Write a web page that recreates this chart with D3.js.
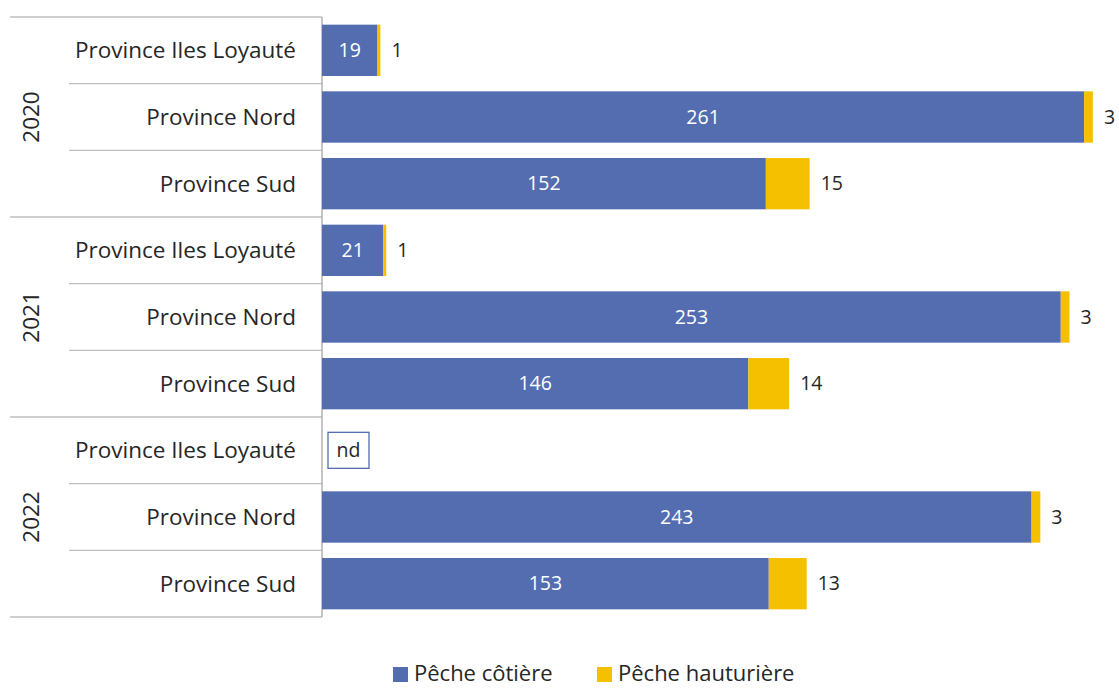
<!DOCTYPE html>
<html>
<head>
<meta charset="utf-8">
<script src="https://cdn.jsdelivr.net/npm/d3@7"></script>
<style>
  body { margin: 0; background: #fff; }
  text { font-family: "Open Sans", "Noto Sans", sans-serif; fill: #262626; }
</style>
</head>
<body>
<script>
var years = ["2020", "2021", "2022"];
var provinces = ["Province Iles Loyauté", "Province Nord", "Province Sud"];
var seriesNames = ["Pêche côtière", "Pêche hauturière"];
// values per year, in province order (null = nd)
var cotiere = [19, 261, 152, 21, 253, 146, null, 243, 153];
var hauturiere = [1, 3, 15, 1, 3, 14, null, 3, 13];
var colors = ["#536DB0", "#F5C000"];

var W = 1119, H = 689;
var svg = d3.select(document.body).append("svg")
  .attr("width", W).attr("height", H);

var rows = [];
years.forEach(function(yr, i) {
  provinces.forEach(function(p, j) {
    var k = i * 3 + j;
    rows.push({ key: yr + "|" + p, year: yr, prov: p, a: cotiere[k], b: hauturiere[k] });
  });
});

var x = d3.scaleLinear().domain([0, 270]).range([322, 322 + 270 * 2.92]);
var y = d3.scaleBand().domain(rows.map(function(d) { return d.key; }))
  .range([17, 617]).paddingInner(0.23).paddingOuter(0.115);
var step = y.step();
var plotTop = 17;

// label area grid
var g = svg.append("g");
rows.forEach(function(d, i) {
  var yy = plotTop + i * step;
  var x0 = (i % 3 === 0) ? 10 : 69;
  g.append("line").attr("x1", x0).attr("x2", 322).attr("y1", yy).attr("y2", yy)
    .attr("stroke", "#bfbfbf").attr("stroke-width", 1.3);
});
g.append("line").attr("x1", 10).attr("x2", 322).attr("y1", 617).attr("y2", 617)
  .attr("stroke", "#bfbfbf").attr("stroke-width", 1.3);
g.append("line").attr("x1", 322).attr("x2", 322).attr("y1", 17).attr("y2", 617)
  .attr("stroke", "#a6a6a6").attr("stroke-width", 1.3);

// province labels
svg.selectAll(".prov").data(rows).enter().append("text")
  .attr("x", 296).attr("y", function(d) { return y(d.key) + y.bandwidth() / 2; })
  .attr("dy", "0.35em").attr("text-anchor", "end")
  .style("font-size", "22.5px")
  .text(function(d) { return d.prov; });

// year labels
years.forEach(function(yr, i) {
  var cy = plotTop + (i * 3 + 1.5) * step;
  svg.append("text")
    .attr("transform", "translate(31," + cy + ") rotate(-90)")
    .attr("text-anchor", "middle").attr("dy", "0.35em")
    .style("font-size", "22.5px")
    .text(yr);
});

// bars
var valid = rows.filter(function(d) { return d.a !== null; });
svg.selectAll(".barA").data(valid).enter().append("rect")
  .attr("x", x(0)).attr("y", function(d) { return y(d.key); })
  .attr("width", function(d) { return x(d.a) - x(0); })
  .attr("height", y.bandwidth()).attr("fill", colors[0]);
svg.selectAll(".barB").data(valid).enter().append("rect")
  .attr("x", function(d) { return x(d.a); }).attr("y", function(d) { return y(d.key); })
  .attr("width", function(d) { return x(d.a + d.b) - x(d.a); })
  .attr("height", y.bandwidth()).attr("fill", colors[1]);

// labels
svg.selectAll(".labA").data(valid).enter().append("text")
  .attr("x", function(d) { return (x(0) + x(d.a)) / 2; })
  .attr("y", function(d) { return y(d.key) + y.bandwidth() / 2; })
  .attr("dy", "0.35em").attr("text-anchor", "middle")
  .style("font-size", "19.5px").style("fill", "#fff")
  .text(function(d) { return d.a; });
svg.selectAll(".labB").data(valid).enter().append("text")
  .attr("x", function(d) { return x(d.a + d.b) + 11; })
  .attr("y", function(d) { return y(d.key) + y.bandwidth() / 2; })
  .attr("dy", "0.35em")
  .style("font-size", "19.5px")
  .text(function(d) { return d.b; });

// nd box
rows.filter(function(d) { return d.a === null; }).forEach(function(d) {
  var cy = y(d.key) + y.bandwidth() / 2;
  svg.append("rect").attr("x", 328).attr("y", cy - 18).attr("width", 41).attr("height", 36)
    .attr("fill", "#fff").attr("stroke", colors[0]).attr("stroke-width", 1.3);
  svg.append("text").attr("x", 348.5).attr("y", cy).attr("dy", "0.35em")
    .attr("text-anchor", "middle").style("font-size", "19.5px").text("nd");
});

// legend
var lx = [393, 597];
seriesNames.forEach(function(s, i) {
  svg.append("rect").attr("x", lx[i]).attr("y", 667).attr("width", 15).attr("height", 15)
    .attr("fill", colors[i]);
  svg.append("text").attr("x", lx[i] + 21).attr("y", 673).attr("dy", "0.35em")
    .style("font-size", "22px").text(s);
});
</script>
</body>
</html>
